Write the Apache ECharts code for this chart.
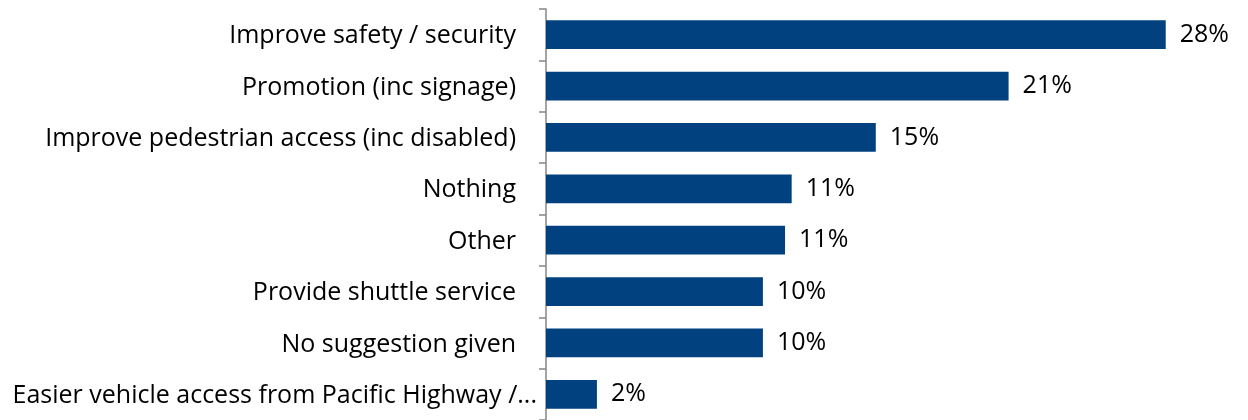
<!DOCTYPE html>
<html>
<head>
<meta charset="utf-8">
<script src="https://cdn.jsdelivr.net/npm/echarts@6/dist/echarts.min.js"></script>
<style>
html,body{margin:0;padding:0;background:#fff;}
#chart{width:1248px;height:420px;}
</style>
</head>
<body>
<div id="chart"></div>
<script>
const categories = [
  "Improve safety / security",
  "Promotion (inc signage)",
  "Improve pedestrian access (inc disabled)",
  "Nothing",
  "Other",
  "Provide shuttle service",
  "No suggestion given",
  "Easier vehicle access from Pacific Highway /..."
];
const values = [28.0, 20.9, 14.9, 11.1, 10.8, 9.8, 9.8, 2.3];
const valueLabels = ["28%", "21%", "15%", "11%", "11%", "10%", "10%", "2%"];

const chart = echarts.init(document.getElementById('chart'), null, {renderer: 'canvas'});
const font = '"Open Sans", "Noto Sans", sans-serif';
chart.setOption({
  animation: false,
  grid: {left: 546, top: 9, width: 664, height: 412, containLabel: false},
  xAxis: {
    type: 'value', min: 0, max: 30, show: false
  },
  yAxis: {
    type: 'category',
    data: categories,
    inverse: true,
    axisLine: {show: true, lineStyle: {color: '#868686', width: 1.5}},
    axisTick: {show: true, length: 7, lineStyle: {color: '#868686', width: 1.5}},
    axisLabel: {
      margin: 9, color: '#000', fontSize: 25, fontFamily: font,
      formatter: (v, i) => i === categories.length - 1 ? '{e|' + v + '}' : '{n|' + v + '}',
      rich: {
        n: {padding: [3, 21, 0, 0], fontSize: 25, fontFamily: font, color: '#000'},
        e: {padding: [3, 0, 0, 0], fontSize: 25, fontFamily: font, color: '#000'}
      }
    },
    splitLine: {show: false}
  },
  series: [{
    type: 'bar',
    data: values,
    barCategoryGap: '44%',
    itemStyle: {color: '#02417F'},
    label: {
      show: true,
      position: 'right',
      distance: 14,
      padding: [3, 0, 0, 0],
      color: '#000',
      fontSize: 25,
      fontFamily: font,
      formatter: p => valueLabels[p.dataIndex]
    }
  }]
});
</script>
</body>
</html>
